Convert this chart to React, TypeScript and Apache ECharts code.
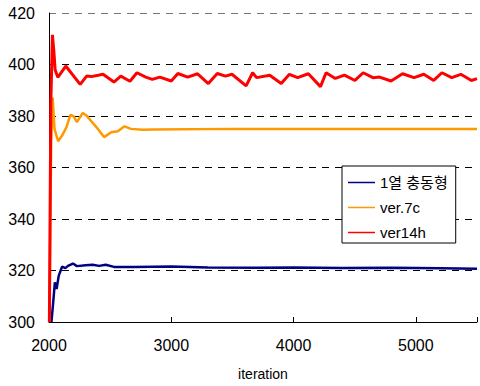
import React, { useEffect, useRef } from "react";
import * as echarts from "echarts";

const seriesNames = ["1열 충동형", "ver.7c", "ver14h"];
const seriesColors = ["#000080", "#FF9900", "#FF0000"];

const xTicks = [2000, 3000, 4000, 5000];
const yTicks = [300, 320, 340, 360, 380, 400, 420];

const blueData: [number, number][] = [
  [2020, 300], [2035, 308], [2048, 315.4], [2062, 312.8], [2080, 318],
  [2107, 321.5], [2134, 320.9], [2155, 321.8], [2196, 322.7], [2228, 321.7],
  [2300, 322], [2357, 322.2], [2410, 321.8], [2464, 322.2], [2531, 321.4],
  [2700, 321.4], [3000, 321.6], [3300, 321.2], [3700, 321.1], [4000, 321.2],
  [4400, 321], [4800, 321.1], [5200, 320.9], [5500, 320.7],
];

const orangeData: [number, number][] = [
  [2003, 300], [2018, 370], [2030, 387.2], [2045, 375], [2075, 370.2],
  [2107, 372.4], [2142, 375.6], [2175, 380.4], [2201, 379.9], [2228, 377.6],
  [2276, 381.2], [2308, 380.1], [2389, 375.6], [2450, 371.8], [2509, 373.7],
  [2563, 374.1], [2617, 376], [2670, 375], [2764, 374.7], [2850, 374.8],
  [3500, 375], [4500, 375], [5500, 375],
];

const redData: [number, number][] = [
  [2003, 300], [2015, 385], [2028, 411.5], [2040, 405], [2050, 398],
  [2072, 395], [2137, 399.4], [2255, 392.3], [2308, 395.5], [2346, 395.3],
  [2402, 395.8], [2442, 396.2], [2531, 393.2], [2587, 395.5], [2662, 393.5],
  [2719, 396.8], [2791, 395.1], [2845, 394.2], [2906, 395.1], [3000, 393.6],
  [3054, 396.5], [3134, 395.1], [3215, 396.4], [3303, 392.6], [3376, 396.5],
  [3443, 395.5], [3496, 396.2], [3612, 391.7], [3665, 396.8], [3698, 394.9],
  [3805, 395.8], [3899, 392.6], [3966, 396.2], [4033, 394.9], [4121, 396.4],
  [4220, 391.4], [4266, 396.8], [4341, 394.6], [4416, 395.9], [4502, 393.8],
  [4569, 396.8], [4649, 394.9], [4703, 395.1], [4797, 393.6], [4891, 396.4],
  [4985, 394.9], [5065, 396.2], [5146, 393.8], [5213, 396.8], [5293, 394.9],
  [5368, 396.2], [5454, 393.8], [5500, 394.5],
];

const FONT = "'Liberation Sans', Arial, 'Noto Sans CJK KR', sans-serif";

export default function App() {
  const ref = useRef<HTMLDivElement>(null);
  useEffect(() => {
    if (!ref.current) return;
    const chart = echarts.init(ref.current, undefined, { renderer: "svg" });
    const datas = [blueData, orangeData, redData];
    const widths = [2.5, 2.5, 3];
    chart.setOption({
      animation: false,
      backgroundColor: "#ffffff",
      textStyle: { fontFamily: FONT },
      grid: { left: 49, top: 13, bottom: 61, right: -4, containLabel: false },
      legend: {
        orient: "vertical",
        left: 342,
        top: 166,
        padding: [8, 8, 2, 6],
        itemGap: 8,
        itemWidth: 27,
        itemHeight: 1.5,
        icon: "rect",
        borderColor: "#000",
        borderWidth: 1,
        backgroundColor: "#fff",
        borderRadius: 0,
        textStyle: { fontFamily: FONT, fontSize: 15, color: "#000", lineHeight: 17 },
        data: seriesNames,
      },
      xAxis: {
        type: "value",
        min: xTicks[0],
        max: 5500,
        interval: 1000,
        name: "iteration",
        nameLocation: "middle",
        nameGap: 45,
        nameTextStyle: { fontFamily: FONT, fontSize: 14, color: "#000" },
        axisLine: { show: true, onZero: false, lineStyle: { color: "#000", width: 1 } },
        axisTick: { show: true, inside: true, length: 5, lineStyle: { color: "#000" } },
        axisLabel: {
          fontFamily: FONT,
          fontSize: 16,
          color: "#000",
          margin: 15,
          formatter: (v: number) => (xTicks.includes(v) ? String(v) : ""),
        },
        splitLine: { show: false },
      },
      yAxis: {
        type: "value",
        min: yTicks[0],
        max: yTicks[yTicks.length - 1],
        interval: 20,
        axisLine: { show: true, lineStyle: { color: "#000", width: 1 } },
        axisTick: { show: false },
        axisLabel: { fontFamily: FONT, fontSize: 16, color: "#000", margin: 14 },
        splitLine: {
          show: true,
          lineStyle: {
            color: ["#000", "#000", "#000", "#000", "#000", "#000", "#777"],
            type: [7, 6],
            width: 1,
          },
        },
      },
      series: seriesNames.map((name, i) => ({
        name,
        type: "line",
        data: datas[i],
        showSymbol: false,
        symbol: "none",
        color: seriesColors[i],
        lineStyle: { color: seriesColors[i], width: widths[i] },
        z: 2 + i,
      })),
    });
    return () => chart.dispose();
  }, []);
  return (
    <div
      ref={ref}
      style={{ position: "fixed", left: 0, top: 0, width: 480, height: 386, background: "#fff" }}
    />
  );
}
